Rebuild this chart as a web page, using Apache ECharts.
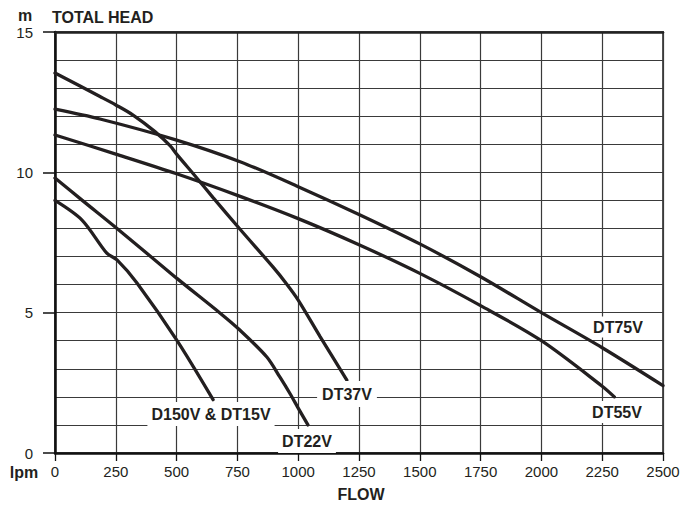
<!DOCTYPE html>
<html>
<head>
<meta charset="utf-8">
<script src="https://cdn.jsdelivr.net/npm/echarts@6/dist/echarts.min.js"></script>
<style>
  html, body { margin: 0; padding: 0; background: #fff; }
  #chart { width: 692px; height: 505px; }
</style>
</head>
<body>
<div id="chart"></div>
<script>
// ---- data (flow in lpm, head in m) ----
const xTicks = [0, 250, 500, 750, 1000, 1250, 1500, 1750, 2000, 2250, 2500];
const yTickLabels = [0, 5, 10, 15];
const seriesNames = ['D150V & DT15V', 'DT22V', 'DT37V', 'DT55V', 'DT75V'];

const d150v = [[0, 9.0], [111, 8.3], [213, 7.12], [255, 6.88], [337, 6.06], [500, 4.03], [650, 1.9]];
const dt22v = [[0, 9.8], [111, 9.01], [255, 8.0], [500, 6.23], [678, 4.99], [760, 4.38], [871, 3.42], [925, 2.7], [966, 2.12], [1000, 1.6], [1040, 1.0]];
const dt37v = [[0, 13.54], [185, 12.7], [250, 12.4], [321, 12.04], [411, 11.45], [473, 10.95], [500, 10.65], [583, 9.8], [650, 9.1], [760, 7.98], [896, 6.63], [950, 6.05], [1000, 5.45], [1090, 4.15], [1200, 2.6]];
const dt55v = [[0, 11.33], [250, 10.65], [500, 9.95], [750, 9.18], [1000, 8.35], [1250, 7.42], [1500, 6.4], [1750, 5.25], [2000, 4.0], [2250, 2.38], [2300, 2.0]];
const dt75v = [[0, 12.25], [185, 11.9], [500, 11.15], [761, 10.38], [1000, 9.49], [1250, 8.5], [1500, 7.45], [1750, 6.28], [2000, 5.0], [2250, 3.75], [2500, 2.4]];

const seriesData = [d150v, dt22v, dt37v, dt55v, dt75v];

const FONT = "'Liberation Sans', Arial, Helvetica, sans-serif";
const INK = '#231f20';

const chart = echarts.init(document.getElementById('chart'), null, { renderer: 'svg' });

function label(text, x, y, pad) {
  return {
    type: 'text', z: 100, x: x, y: y,
    style: {
      text: text, fill: INK, font: 'bold 16px ' + FONT,
      align: 'center', verticalAlign: 'middle',
      backgroundColor: '#fff', padding: pad
    }
  };
}

const option = {
  animation: false,
  backgroundColor: '#fff',
  grid: { left: 55, right: 29, top: 32, bottom: 52, show: true, borderColor: '#555', borderWidth: 2, backgroundColor: 'transparent' },
  xAxis: [{
    type: 'value', min: 0, max: 2500, interval: 250, position: 'bottom',
    axisLine: { show: true, onZero: false, lineStyle: { color: '#111', width: 2.5 } },
    axisTick: { show: true, length: 8, lineStyle: { color: '#111', width: 1.3 } },
    axisLabel: { show: true, margin: 11, fontSize: 15, fontFamily: FONT, color: INK, showMinLabel: true, showMaxLabel: true, hideOverlap: false,
      formatter: v => xTicks.indexOf(v) >= 0 ? String(v) : '' },
    splitLine: { show: true, lineStyle: { color: '#3a3a3a', width: 1.2 } }
  }, {
    type: 'value', min: 0, max: 2500, interval: 250, position: 'top',
    axisLine: { show: true, onZero: false, lineStyle: { color: '#222', width: 2.5 } },
    axisTick: { show: false }, axisLabel: { show: false }, splitLine: { show: false }
  }],
  yAxis: [{
    type: 'value', min: 0, max: 15, interval: 1, position: 'left',
    axisLine: { show: false }, axisTick: { show: false }, axisLabel: { show: false },
    splitLine: { show: true, lineStyle: { color: '#3a3a3a', width: 1.2 } }
  }, {
    type: 'value', min: 0, max: 15, interval: 5, position: 'left',
    axisLine: { show: true, onZero: false, lineStyle: { color: '#111', width: 2.5 } },
    axisTick: { show: true, length: 12, lineStyle: { color: '#111', width: 1.5 } },
    axisLabel: { show: true, margin: 22, fontSize: 15, fontFamily: FONT, color: INK,
      formatter: v => yTickLabels.indexOf(v) >= 0 ? String(v) : '' },
    splitLine: { show: false }
  }],
  series: seriesData.map((d, i) => ({
    name: seriesNames[i], type: 'line', data: d, xAxisIndex: 0, yAxisIndex: 0,
    smooth: 0.3, symbol: 'none', z: 5,
    lineStyle: { color: INK, width: 3.3, cap: 'round' }
  })),
  graphic: [
    { type: 'text', z: 100, x: 25, y: 15.5, style: { text: 'm', fill: INK, font: 'bold 16px ' + FONT, align: 'center', verticalAlign: 'middle' } },
    { type: 'text', z: 100, x: 52, y: 17, style: { text: 'TOTAL HEAD', fill: INK, font: 'bold 16px ' + FONT, align: 'left', verticalAlign: 'middle' } },
    { type: 'text', z: 100, x: 24, y: 472, style: { text: 'lpm', fill: INK, font: 'bold 16px ' + FONT, align: 'center', verticalAlign: 'middle' } },
    { type: 'text', z: 100, x: 361, y: 494, style: { text: 'FLOW', fill: INK, font: 'bold 16px ' + FONT, align: 'center', verticalAlign: 'middle' } },
    label(seriesNames[0], 211, 414, [4, 4]),
    label(seriesNames[1], 307, 441, [4, 4]),
    label(seriesNames[2], 347, 394, [5, 5]),
    label(seriesNames[3], 617, 412, [3, 4]),
    label(seriesNames[4], 618, 327, [4, 4, 1, 4])
  ]
};
chart.setOption(option);
</script>
</body>
</html>
